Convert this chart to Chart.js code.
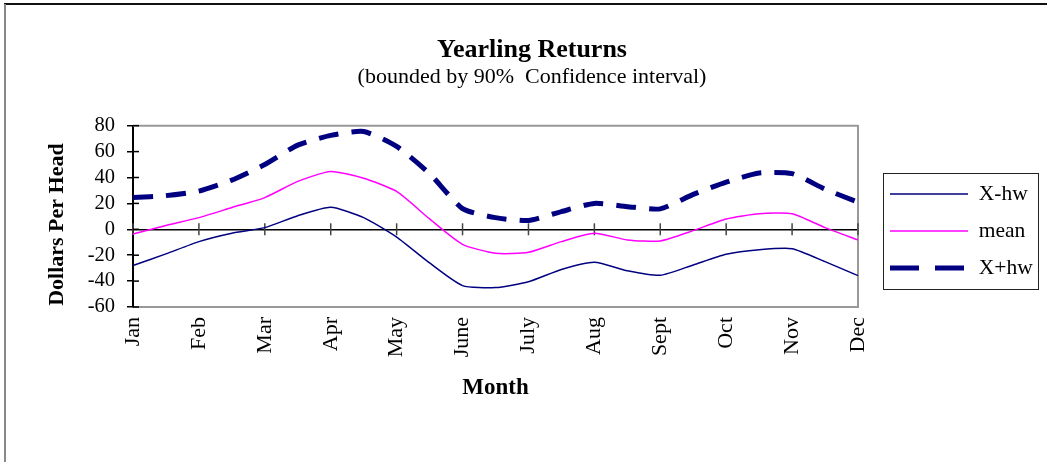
<!DOCTYPE html>
<html><head><meta charset="utf-8">
<script src="https://cdn.jsdelivr.net/npm/chart.js@4/dist/chart.umd.min.js"></script>
<style>html,body{margin:0;padding:0;background:#fff;overflow:hidden}</style>
</head><body>
<canvas id="c" width="1047" height="462"></canvas>
<script>
// Semi-monthly observations; only month starts are labelled
const labels = ['Jan','','Feb','','Mar','','Apr','','May','','June','','July','','Aug','','Sept','','Oct','','Nov','','Dec'];
const xhwLower = [-28,-19,-9.5,-3,1.3,10.5,17,9,-6,-26,-43.5,-45,-40.5,-31,-25.4,-32,-35.5,-27.5,-19.3,-15.8,-15,-25,-35.8];
const meanValues = [-3.6,2.9,9,16.8,24.5,37,44.6,39.4,29.2,8,-11.6,-18.5,-17.8,-9.5,-3.1,-8.2,-9,-1,8,12,12,1.3,-8.2];
const xhwUpper = [24.5,26,29.5,38,50,65,72.5,75.5,64,43,16,9,6.8,13.7,20,17.5,15.8,27,36.4,43.5,43,31,21];
const yMin = -60, yMax = 80, yStep = 20;

Chart.defaults.font.family = "'Liberation Serif','Times New Roman',serif";
Chart.defaults.color = '#000';

const line = (ctx, x1, y1, x2, y2) => { ctx.beginPath(); ctx.moveTo(x1, y1); ctx.lineTo(x2, y2); ctx.stroke(); };

const decor = {
  id: 'decor',
  beforeDraw(chart) {
    const {ctx, width, height} = chart;
    ctx.save();
    ctx.fillStyle = '#fff'; ctx.fillRect(0, 0, width, height);
    ctx.strokeStyle = '#111'; ctx.lineWidth = 2; line(ctx, 4, 4, width, 4);
    ctx.strokeStyle = '#888'; ctx.lineWidth = 2; line(ctx, 5, 4, 5, height);
    ctx.restore();
  },
  beforeDatasetsDraw(chart) {
    const {ctx, chartArea: a, scales: {x, y}} = chart;
    ctx.save();
    ctx.strokeStyle = '#999'; ctx.lineWidth = 2; line(ctx, a.left, a.top, a.right, a.top);
    const y0 = y.getPixelForValue(0);
    ctx.strokeStyle = '#444'; ctx.lineWidth = 1.5;
    labels.forEach((l, i) => { if (l) { const px = x.getPixelForValue(i); line(ctx, px, y0 - 6, px, y0 + 6); } });
    ctx.strokeStyle = '#000';
    y.ticks.forEach(t => { const py = y.getPixelForValue(t.value); line(ctx, a.left, py, a.left + 6, py); });
    ctx.restore();
  },
  afterLayout(chart) {
    const lg = chart.legend;
    if (!lg) return;
    const w = lg.width;
    lg.left = 874.5; lg.right = 874.5 + w;
    lg.top = 167.75; lg.bottom = 167.75 + 260; lg.height = 260;
  },
  afterDraw(chart) {
    const ctx = chart.ctx;
    ctx.save(); ctx.strokeStyle = '#222'; ctx.lineWidth = 1;
    ctx.strokeRect(883.5, 173.5, 155, 116);
    ctx.restore();
  }
};

new Chart(document.getElementById('c'), {
  type: 'line',
  data: {
    labels: labels,
    datasets: [
      {label: 'X-hw', data: xhwLower, borderColor: '#000080', borderWidth: 1.5, pointRadius: 0, tension: 0.2, fill: false},
      {label: 'mean', data: meanValues, borderColor: '#FF00FF', borderWidth: 1.5, pointRadius: 0, tension: 0.2, fill: false},
      {label: 'X+hw', data: xhwUpper, borderColor: '#000080', borderWidth: 5, borderDash: [20, 13], pointRadius: 0, tension: 0.2, fill: false}
    ]
  },
  options: {
    responsive: false,
    animation: false,
    devicePixelRatio: 1,
    layout: {padding: {left: 17, right: 0, top: 0, bottom: 0}},
    plugins: {
      title: {display: true, text: 'Yearling Returns', color: '#000', font: {size: 26, weight: 'bold', lineHeight: 1}, padding: {top: 37, bottom: 0}},
      subtitle: {display: true, text: '(bounded by 90%  Confidence interval)', color: '#000', font: {size: 22, lineHeight: 1}, padding: {top: 3.5, bottom: 37.2}},
      legend: {
        position: 'chartArea', align: 'start',
        labels: {
          usePointStyle: true, pointStyle: 'line', pointStyleWidth: 78, padding: 15.5, color: '#000', font: {size: 21.5},
          generateLabels(chart) {
            const items = Chart.defaults.plugins.legend.labels.generateLabels(chart);
            items.forEach(it => {
              if (it.text === 'X+hw') { it.lineDash = [29, 16]; it.lineWidth = 5; } else { it.lineWidth = 1.5; }
            });
            return items;
          }
        }
      },
      tooltip: {enabled: false}
    },
    scales: {
      x: {
        type: 'category', position: 'bottom', offset: false,
        grid: {display: false, drawTicks: false},
        border: {color: '#999', width: 2},
        ticks: {autoSkip: false, maxRotation: 90, minRotation: 90, padding: 10, color: '#000', font: {size: 22}},
        title: {display: true, text: 'Month', color: '#000', font: {size: 23, weight: 'bold'}, padding: {top: 0, bottom: 60}},
        afterFit(s) { s.height = 155; }
      },
      y: {
        position: 'left', min: yMin, max: yMax,
        ticks: {stepSize: yStep, autoSkip: false, padding: 12, color: '#000', font: {size: 20.5, lineHeight: 1}},
        grid: {drawOnChartArea: true, color: c => (c.tick && c.tick.value === 0) ? '#000' : 'rgba(0,0,0,0)', lineWidth: 1.5, tickLength: 6, tickColor: '#000'},
        border: {color: '#000', width: 2},
        title: {display: true, text: 'Dollars Per Head   ', color: '#000', font: {size: 22, weight: 'bold'}, padding: {top: 27.5, bottom: 0}},
        afterFit(s) { s.width = 116; }
      },
      y2: {
        position: 'right', display: true,
        grid: {display: false, drawTicks: false},
        ticks: {display: false},
        border: {color: '#999', width: 2},
        afterFit(s) { s.width = 189; }
      }
    }
  },
  plugins: [decor]
});
</script>
</body></html>
